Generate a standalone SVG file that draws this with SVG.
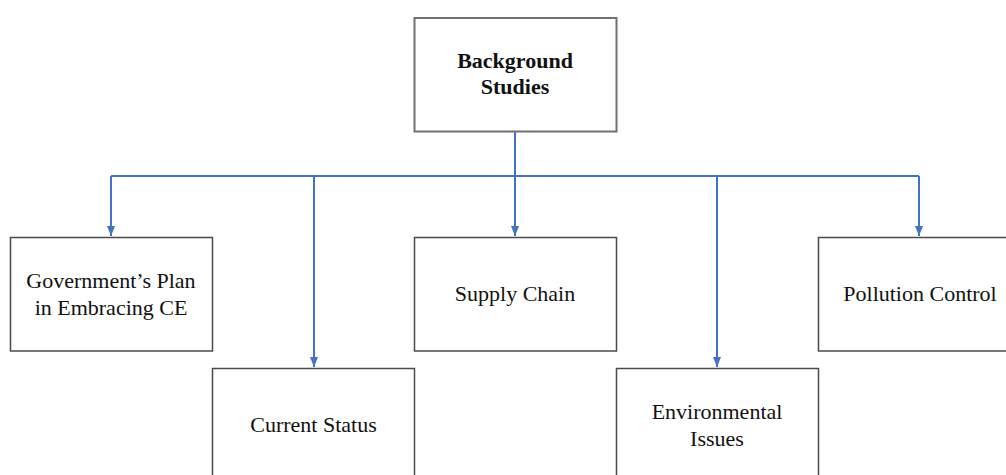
<svg xmlns="http://www.w3.org/2000/svg" width="1006" height="475" viewBox="0 0 1006 475">
<style>
.box{fill:#fff;stroke:#4a4a4a;stroke-width:1.5}
.top{stroke:#707070;stroke-width:2}
.t{font-family:"Liberation Serif","Times New Roman",serif;font-size:22px;fill:#111;text-anchor:middle}
.b{font-weight:bold}
.c{fill:none;stroke:#4472C4;stroke-width:2}
</style>
<defs>
<marker id="ah" markerUnits="userSpaceOnUse" markerWidth="12" markerHeight="8" refX="10" refY="4" orient="auto">
<path d="M0,0 L10,4 L0,8 Z" fill="#4472C4"/>
</marker>
</defs>
<rect width="1006" height="475" fill="#fff"/>
<g id="connectors">
<path class="c" d="M515,132 V176"/>
<path class="c" d="M111,176 H919"/>
<path class="c" d="M111,176 V236" marker-end="url(#ah)"/>
<path class="c" d="M314,176 V367" marker-end="url(#ah)"/>
<path class="c" d="M515,176 V236" marker-end="url(#ah)"/>
<path class="c" d="M717,176 V367" marker-end="url(#ah)"/>
<path class="c" d="M919,176 V236" marker-end="url(#ah)"/>
</g>
<g id="background">
<rect class="box top" x="414.5" y="18" width="202" height="113.5"/>
<text class="t b" x="515" y="68">Background</text>
<text class="t b" x="515" y="94">Studies</text>
</g>
<g id="government">
<rect class="box" x="10.5" y="237.5" width="202" height="113.5"/>
<text class="t" x="111" y="288">Government’s Plan</text>
<text class="t" x="111" y="315">in Embracing CE</text>
</g>
<g id="supply">
<rect class="box" x="414.5" y="237.5" width="202" height="113.5"/>
<text class="t" x="515" y="301">Supply Chain</text>
</g>
<g id="pollution">
<rect class="box" x="818.5" y="237.5" width="202" height="113.5"/>
<text class="t" x="920" y="301">Pollution Control</text>
</g>
<g id="current">
<rect class="box" x="212.5" y="368.5" width="202" height="113.5"/>
<text class="t" x="313.5" y="432">Current Status</text>
</g>
<g id="environmental">
<rect class="box" x="616.5" y="368.5" width="202" height="113.5"/>
<text class="t" x="717" y="419">Environmental</text>
<text class="t" x="717" y="446">Issues</text>
</g>
</svg>
